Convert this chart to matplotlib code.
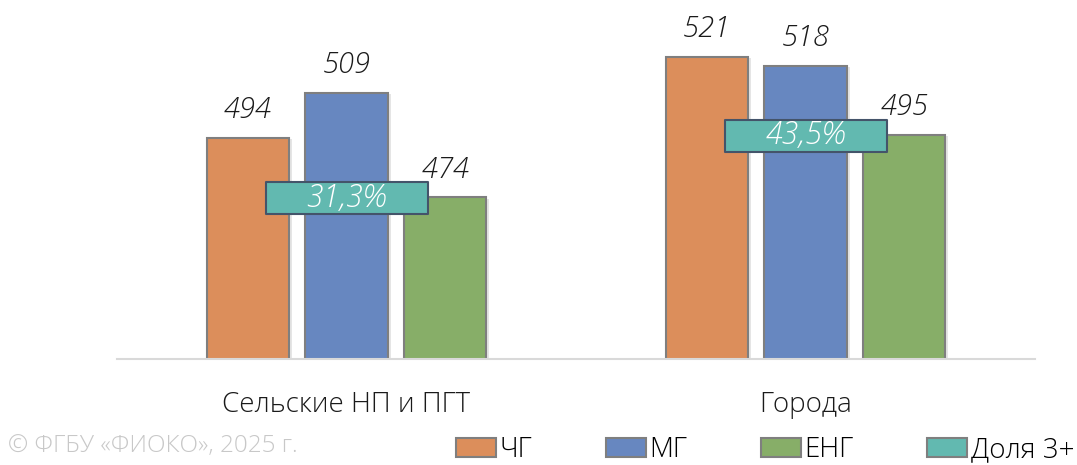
import matplotlib
matplotlib.use("Agg")
import matplotlib.pyplot as plt
import numpy as np
from matplotlib.patches import Patch
from matplotlib.path import Path
from matplotlib import patheffects as pe

plt.rcParams['font.family'] = ['Open Sans', 'DejaVu Sans']
plt.rcParams['font.weight'] = 'light'

# данные
groups = ["Сельские НП и ПГТ", "Города"]
series = ["ЧГ", "МГ", "ЕНГ"]
chg = [494, 521]
mg = [509, 518]
eng = [474, 495]
dolya = [31.3, 43.5]
dolya_name = "Доля 3+"

colors = ["#DC8E5B", "#6787C0", "#87AE68"]
teal = "#62B9B0"

fig = plt.figure(figsize=(10.77, 4.65), dpi=100)
ax = fig.add_axes([117 / 1077, 1 - 359 / 465, (1035 - 117) / 1077, 359 / 465])

x = np.arange(len(groups))
w = 0.18
step = 0.215
shadow = [pe.SimplePatchShadow(offset=(2, -1), alpha=0.1, shadow_rgbFace="k"), pe.Normal()]
for i, (vals, c) in enumerate(zip([chg, mg, eng], colors)):
    bars = ax.bar(x + (i - 1) * step, vals, w, bottom=0, color=c,
                  edgecolor="#7F7F7F", linewidth=1.5, zorder=2)
    for b in bars:
        b.set_path_effects(shadow)
    for xi, v in zip(x + (i - 1) * step, vals):
        ax.annotate(str(v), (xi, v), xytext=(0, 14), textcoords="offset points",
                    ha="center", va="baseline", fontsize=21, style="italic",
                    color="#1A1A1A")

ax.set_ylim(420, 540)
ax.set_xlim(-0.5, 1.5)
ax.set_xticks(x)
ax.set_xticklabels(groups, fontsize=20, color="#1A1A1A")
ax.tick_params(axis="x", length=0, pad=23)
ax.set_yticks([])
for s in ["top", "left", "right"]:
    ax.spines[s].set_visible(False)
ax.spines["bottom"].set_color("#D9D9D9")
ax.spines["bottom"].set_linewidth(1.5)

# доля на вспомогательной оси
ax2 = ax.twinx()
ax2.set_ylim(0, 70)
ax2.set_yticks([])
for s in ax2.spines.values():
    s.set_visible(False)
box = Path([(-1, -0.2), (1, -0.2), (1, 0.2), (-1, 0.2), (-1, -0.2)],
           [Path.MOVETO, Path.LINETO, Path.LINETO, Path.LINETO, Path.CLOSEPOLY])
ax2.plot(x, dolya, linestyle="none", marker=box, markersize=116,
         markerfacecolor=teal, markeredgecolor="#44546A", markeredgewidth=1.5, zorder=3)
for xi, v in zip(x, dolya):
    ax2.text(xi, v, f"{v:.1f}%".replace(".", ","), ha="center", va="center",
             fontsize=22, style="italic", color="white", zorder=4)

handles = [Patch(facecolor=c, edgecolor="#7F7F7F", linewidth=1.5) for c in colors]
handles.append(Patch(facecolor=teal, edgecolor="#7F7F7F", linewidth=1.5))
fig.legend(handles, series + [dolya_name], loc="center right",
           bbox_to_anchor=(1.0, 1 - 450 / 465), ncol=4, frameon=False,
           fontsize=20, handlelength=1.45, handleheight=0.65, handletextpad=0.12,
           columnspacing=2.65, borderaxespad=0.0, borderpad=0.1)

fig.text(8 / 1077, 1 - 446 / 465, "© ФГБУ «ФИОКО», 2025 г.", fontsize=17.5,
         color="#C8C8C8", ha="left", va="center")

fig.savefig("out.png", dpi=100)
